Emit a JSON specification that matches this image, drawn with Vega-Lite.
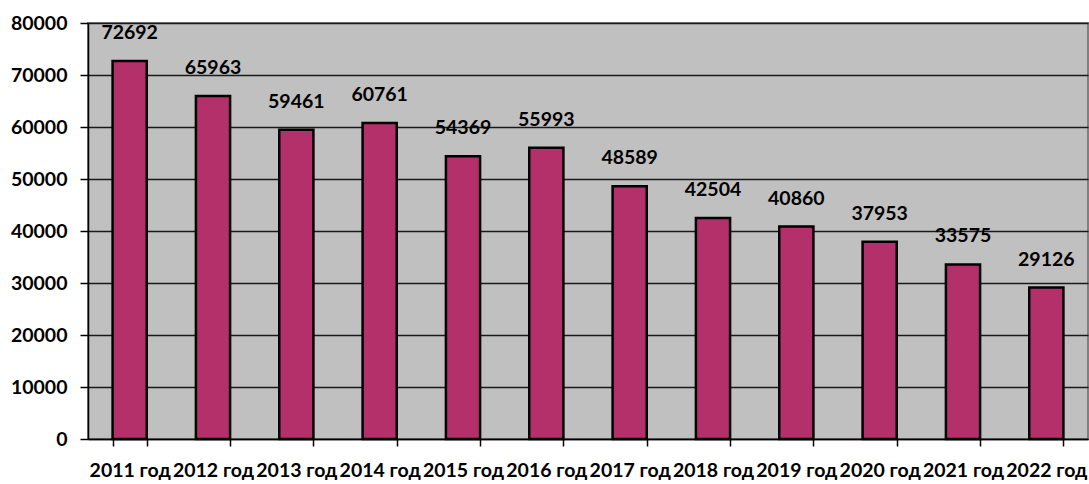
{
  "$schema": "https://vega.github.io/schema/vega-lite/v6.json",
  "width": 1000,
  "height": 416,
  "autosize": "none",
  "padding": {"left": 88, "top": 23, "right": 1, "bottom": 45},
  "background": "white",
  "config": {
    "view": {"fill": "#C0C0C0", "stroke": "#808080", "strokeWidth": 2},
    "font": "Lato"
  },
  "data": {
    "values": [
      {"year": "2011 год", "value": 72692},
      {"year": "2012 год", "value": 65963},
      {"year": "2013 год", "value": 59461},
      {"year": "2014 год", "value": 60761},
      {"year": "2015 год", "value": 54369},
      {"year": "2016 год", "value": 55993},
      {"year": "2017 год", "value": 48589},
      {"year": "2018 год", "value": 42504},
      {"year": "2019 год", "value": 40860},
      {"year": "2020 год", "value": 37953},
      {"year": "2021 год", "value": 33575},
      {"year": "2022 год", "value": 29126}
    ]
  },
  "encoding": {
    "x": {
      "field": "year", "type": "nominal", "sort": null,
      "scale": {"paddingInner": 0.59, "paddingOuter": 0.295},
      "axis": {
        "title": null, "labelAngle": 0, "labelFont": "Lato", "labelFontSize": 19.5, "labelFontWeight": "bold",
        "labelColor": "black", "domainColor": "black", "domainWidth": 1.5, "tickColor": "black", "tickSize": 7,
        "tickWidth": 1.5, "tickBand": "extent", "labelBaseline": "alphabetic", "labelPadding": 30, "grid": false,
        "labelOverlap": false
      }
    },
    "y": {
      "field": "value", "type": "quantitative",
      "scale": {"domain": [0, 80000], "nice": false},
      "axis": {
        "title": null, "values": [0, 10000, 20000, 30000, 40000, 50000, 60000, 70000, 80000], "format": "d",
        "labelFont": "Lato", "labelFontSize": 19.5, "labelFontWeight": "bold", "labelColor": "black",
        "domainColor": "black", "domainWidth": 1.5, "tickColor": "black", "tickSize": 8, "tickWidth": 1.5,
        "labelPadding": 13, "grid": true, "gridColor": "#1a1a1a", "gridWidth": 1.5, "gridOpacity": 1
      }
    }
  },
  "layer": [
    {"mark": {"type": "bar", "fill": "#B4306A", "stroke": "black", "strokeWidth": 2.5}},
    {
      "mark": {"type": "text", "baseline": "alphabetic", "dy": -22, "fontSize": 19.5, "fontWeight": "bold", "color": "black", "font": "Lato"},
      "encoding": {"text": {"field": "value", "type": "quantitative", "format": "d"}}
    }
  ]
}
